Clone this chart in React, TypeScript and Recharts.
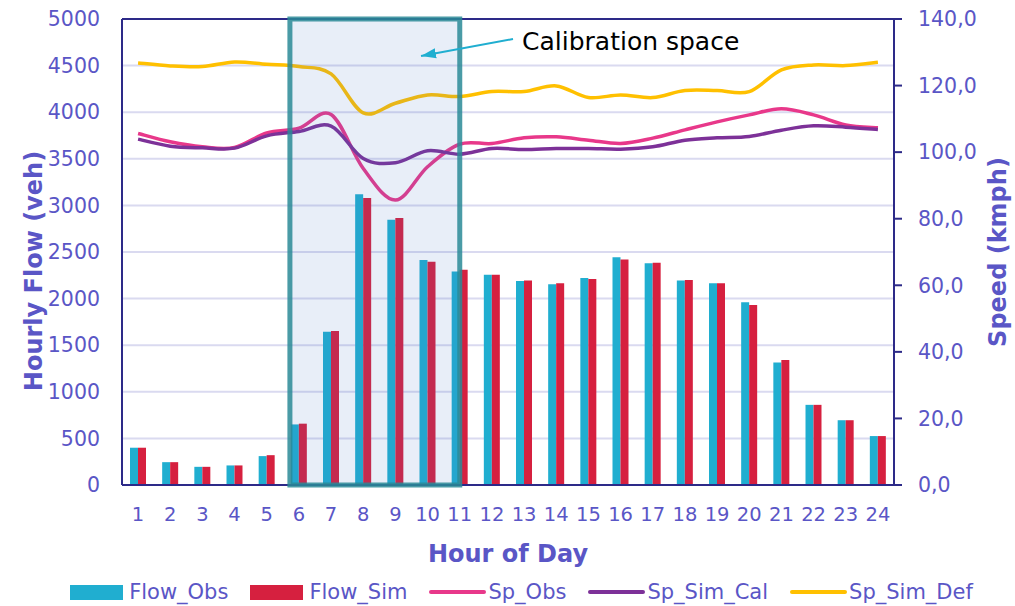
import React from 'react';
import {
    ComposedChart, Bar, Line, XAxis, YAxis, CartesianGrid, Legend, ReferenceArea, ReferenceLine,
} from 'recharts';

const hours: string[] = ['1', '2', '3', '4', '5', '6', '7', '8', '9', '10', '11', '12', '13', '14', '15', '16', '17', '18', '19', '20', '21', '22', '23', '24'];

const flowObs: number[] = [400, 245, 195, 210, 310, 650, 1645, 3120, 2845, 2415, 2290, 2255, 2190, 2155, 2220, 2445, 2380, 2195, 2165, 1960, 1315, 860, 695, 525];
const flowSim: number[] = [400, 245, 195, 210, 320, 658, 1652, 3080, 2865, 2395, 2310, 2255, 2195, 2165, 2210, 2420, 2385, 2200, 2165, 1930, 1340, 860, 695, 525];

const spObs: number[] = [105.6, 103.1, 101.6, 101.4, 105.8, 107.2, 111.3, 95.1, 85.6, 95.6, 102.4, 102.6, 104.3, 104.6, 103.6, 102.6, 104.2, 106.7, 109.1, 111.2, 113.0, 111.2, 108.2, 107.3];
const spSimCal: number[] = [103.9, 101.8, 101.3, 101.2, 104.9, 106.2, 107.8, 98.1, 96.8, 100.4, 99.4, 101.1, 100.8, 101.1, 101.1, 100.9, 101.6, 103.6, 104.3, 104.7, 106.6, 107.9, 107.5, 106.8];
const spSimDef: number[] = [126.8, 125.9, 125.7, 127.1, 126.4, 125.7, 123.5, 111.8, 114.7, 117.2, 116.7, 118.2, 118.2, 119.9, 116.4, 117.2, 116.4, 118.5, 118.5, 118.2, 124.7, 126.2, 126.0, 127.0];

const flowTicks: number[] = [0, 500, 1000, 1500, 2000, 2500, 3000, 3500, 4000, 4500, 5000];
const speedTicks: number[] = [0, 20, 40, 60, 80, 100, 120, 140];

const data = hours.map((h, i) => ({
    hour: h,
    Flow_Obs: flowObs[i],
    Flow_Sim: flowSim[i],
    Sp_Obs: spObs[i],
    Sp_Sim_Cal: spSimCal[i],
    Sp_Sim_Def: spSimDef[i],
}));

const FONT = "'DejaVu Sans', Verdana, sans-serif";
const TEXT = '#5A56C6';
const NAVY = '#2D2A88';
const OBS = '#20AED0';
const SIM = '#D6203F';
const PINK = '#E8388A';
const PURPLE = '#7D3198';
const GOLD = '#FFC000';

const legendItems = [
    { name: 'Flow_Obs', color: OBS, kind: 'bar' },
    { name: 'Flow_Sim', color: SIM, kind: 'bar' },
    { name: 'Sp_Obs', color: PINK, kind: 'line' },
    { name: 'Sp_Sim_Cal', color: PURPLE, kind: 'line' },
    { name: 'Sp_Sim_Def', color: GOLD, kind: 'line' },
];

// Excel-like smoothed line (Catmull-Rom through the points)
const excelSmooth = (context: any) => {
    let pts: number[][] = [];
    return {
        areaStart() { },
        areaEnd() { },
        lineStart() { pts = []; },
        point(x: number, y: number) { pts.push([+x, +y]); },
        lineEnd() {
            const n = pts.length;
            if (!n) return;
            context.moveTo(pts[0][0], pts[0][1]);
            for (let i = 0; i < n - 1; i++) {
                const p0 = pts[Math.max(i - 1, 0)];
                const p1 = pts[i];
                const p2 = pts[i + 1];
                const p3 = pts[Math.min(i + 2, n - 1)];
                context.bezierCurveTo(
                    p1[0] + (p2[0] - p0[0]) / 6, p1[1] + (p2[1] - p0[1]) / 6,
                    p2[0] - (p3[0] - p1[0]) / 6, p2[1] - (p3[1] - p1[1]) / 6,
                    p2[0], p2[1],
                );
            }
        },
    };
};

// box spans from a bit inside hour 6 to the middle of hour 11
const CalibBox = (props: any) => {
    const { x, y, width, height } = props;
    const band = width / 6;
    const left = x + band * 0.22;
    const right = x + width - band * 0.5;
    return (
        <rect x={left} y={y} width={right - left} height={height}
            fill="#4472C4" fillOpacity={0.12}
            stroke="#2A8A96" strokeOpacity={0.85} strokeWidth={5} />
    );
};

const LegendContent = () => (
    <div style={{
        display: 'flex', justifyContent: 'center', alignItems: 'center', height: 36, boxSizing: 'border-box',
        paddingTop: 8, paddingLeft: 28, gap: 22,
        fontFamily: FONT, fontSize: 21, color: TEXT,
    }}>
        {legendItems.map((it) => (
            <div key={it.name} style={{ display: 'flex', alignItems: 'center' }}>
                {it.kind === 'bar'
                    ? <div style={{ width: 53, height: 15, background: it.color, marginRight: 6 }} />
                    : <div style={{ width: 57, height: 4, borderRadius: 2, background: it.color, marginRight: 2 }} />}
                <span>{it.name}</span>
            </div>
        ))}
    </div>
);

const App: React.FC = () => {
    return (
        <div style={{ position: 'absolute', left: 0, top: 0, width: 1015, height: 606, background: '#fff' }}>
            <ComposedChart width={1015} height={606} data={data}
                margin={{ top: 19, right: 0, bottom: 0, left: 0 }}
                barSize={8} barGap={0}>
                <CartesianGrid yAxisId="left" vertical={false} stroke="#DADAF0" strokeWidth={2} />
                <XAxis dataKey="hour" interval={0} height={85}
                    axisLine={{ stroke: NAVY, strokeWidth: 2 }} tickLine={false} tickSize={0} tickMargin={22}
                    tick={{ fill: TEXT, fontSize: 19.5, fontFamily: FONT }}
                    label={{
                        content: (p: any) => (
                            <text x={p.viewBox.x + p.viewBox.width / 2} y={p.viewBox.y + 77} textAnchor="middle"
                                fill={TEXT} fontSize={24} fontWeight="bold" fontFamily={FONT}>Hour of Day</text>
                        ),
                    }} />
                <YAxis yAxisId="left" width={122} domain={[0, 5000]} ticks={flowTicks}
                    axisLine={{ stroke: NAVY, strokeWidth: 2 }} tickLine={false} tickSize={0} tickMargin={22}
                    tick={{ fill: TEXT, fontSize: 20.5, fontFamily: FONT }}
                    label={{
                        content: (p: any) => {
                            const cx = 34;
                            const cy = p.viewBox.y + p.viewBox.height / 2 + 19;
                            return (
                                <text x={cx} y={cy} transform={`rotate(-90, ${cx}, ${cy})`} textAnchor="middle"
                                    dominantBaseline="central" fill={TEXT} fontSize={24} fontWeight="bold"
                                    fontFamily={FONT}>Hourly Flow (veh)</text>
                            );
                        },
                    }} />
                <YAxis yAxisId="right" orientation="right" width={121} domain={[0, 140]} ticks={speedTicks}
                    axisLine={{ stroke: NAVY, strokeWidth: 2 }} tickLine={{ stroke: NAVY, strokeWidth: 2 }}
                    tickSize={8} tickMargin={16}
                    tickFormatter={(v: number) => v.toFixed(1).replace('.', ',')}
                    tick={{ fill: TEXT, fontSize: 20.5, fontFamily: FONT }}
                    label={{
                        content: (p: any) => {
                            const cx = 998;
                            const cy = p.viewBox.y + p.viewBox.height / 2;
                            return (
                                <text x={cx} y={cy} transform={`rotate(-90, ${cx}, ${cy})`} textAnchor="middle"
                                    dominantBaseline="central" fill={TEXT} fontSize={24} fontWeight="bold"
                                    fontFamily={FONT}>Speed (kmph)</text>
                            );
                        },
                    }} />
                <ReferenceLine yAxisId="left" y={5000} stroke={NAVY} strokeWidth={2} />
                <Bar yAxisId="left" dataKey="Flow_Obs" fill={OBS} isAnimationActive={false} />
                <Bar yAxisId="left" dataKey="Flow_Sim" fill={SIM} isAnimationActive={false} />
                <Line yAxisId="right" dataKey="Sp_Obs" type={excelSmooth as any} stroke={PINK} strokeWidth={3.5}
                    dot={false} activeDot={false} isAnimationActive={false} />
                <Line yAxisId="right" dataKey="Sp_Sim_Cal" type={excelSmooth as any} stroke={PURPLE} strokeWidth={3.5}
                    dot={false} activeDot={false} isAnimationActive={false} />
                <Line yAxisId="right" dataKey="Sp_Sim_Def" type={excelSmooth as any} stroke={GOLD} strokeWidth={3.5}
                    dot={false} activeDot={false} isAnimationActive={false} />
                <ReferenceArea yAxisId="left" x1="6" x2="11" y1={0} y2={5000} ifOverflow="visible"
                    zIndex={1500} shape={(p: any) => <CalibBox {...p} />} />
                <Legend verticalAlign="bottom" content={<LegendContent />} />
            </ComposedChart>
            <svg width={1015} height={606} style={{ position: 'absolute', left: 0, top: 0, pointerEvents: 'none' }}>
                <defs>
                    <marker id="arrowHead" markerWidth="16" markerHeight="12" refX="15" refY="6" orient="auto"
                        markerUnits="userSpaceOnUse">
                        <path d="M0,1 L15,6 L0,11 Z" fill={OBS} />
                    </marker>
                </defs>
                <line x1={513} y1={39} x2={421} y2={56} stroke={OBS} strokeWidth={2} markerEnd="url(#arrowHead)" />
                <text x={522} y={50} fontSize={25} fontFamily={FONT} fill="#000">Calibration space</text>
            </svg>
        </div>
    );
};

export default App;
